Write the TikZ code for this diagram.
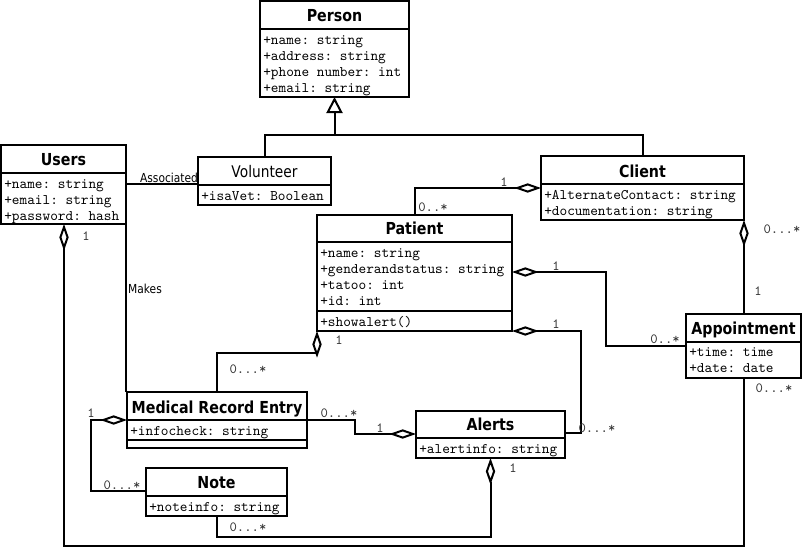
\documentclass[tikz,border=0pt]{standalone}
\usepackage{fontspec}
\usetikzlibrary{arrows.meta}
\newfontfamily\monofnt{Latin Modern Mono}
\newfontfamily\sansfnt{DejaVu Sans}[FakeStretch=0.86]
\frenchspacing
\tikzset{
  ln/.style={line width=1.5pt},
  umlbox/.style={draw, line width=1.5pt, inner sep=0pt, outer sep=0pt, anchor=north west},
  ttl/.style={anchor=base, inner sep=0pt, font=\sansfnt\bfseries\fontsize{12.4}{14}\selectfont},
  ttlreg/.style={anchor=base, inner sep=0pt, font=\sansfnt\fontsize{12}{14}\selectfont},
  attr/.style={anchor=base west, inner sep=0pt, font=\monofnt\fontsize{10.95}{12}\selectfont},
  mult/.style={inner sep=0pt, text=black!80, font=\monofnt\fontsize{10.5}{12}\selectfont},
  lbl/.style={inner sep=0pt, font=\sansfnt\fontsize{9.3}{11}\selectfont},
  agg/.style={ln, {Diamond[open, length=20pt, width=7pt]}-},
  gen/.style={ln, {Triangle[open, length=12pt, width=12pt]}-},
}
\newcommand\umlclass[5]{\node[umlbox, minimum width=#4*0.75pt, minimum height=#5*0.75pt] (#1) at (#2,#3) {};}
\newcommand\hdiv[2]{\draw[ln] (#1.west |- 0,#2) -- (#1.east |- 0,#2);}
\begin{document}
\begin{tikzpicture}[x=0.75pt, y=-0.75pt]
\useasboundingbox (0,0) rectangle (803,550);
% ---------- classes ----------
\umlclass{person}{260}{1}{149}{96}
\hdiv{person}{29}
\node[ttl] (person-t) at (person.north |- 0,21) {Person};
\node[attr] (person-a1) at (263,44) {+name: string};
\node[attr] (person-a2) at (263,60) {+address: string};
\node[attr] (person-a3) at (263,76) {+phone number: int};
\node[attr] (person-a4) at (263,92) {+email: string};

\umlclass{users}{1}{145}{125}{79}
\hdiv{users}{173}
\node[ttl] (users-t) at (users.north |- 0,165) {Users};
\node[attr] (users-a1) at (4,188) {+name: string};
\node[attr] (users-a2) at (4,204) {+email: string};
\node[attr] (users-a3) at (4,220) {+password: hash};

\umlclass{volunteer}{198}{157}{133}{48}
\hdiv{volunteer}{185}
\node[ttlreg] (volunteer-t) at (volunteer.north |- 0,177) {Volunteer};
\node[attr] (volunteer-a1) at (201,200) {+isaVet: Boolean};

\umlclass{client}{541}{156}{203}{64}
\hdiv{client}{184}
\node[ttl] (client-t) at (client.north |- 0,177) {Client};
\node[attr] (client-a1) at (544,199) {+AlternateContact: string};
\node[attr] (client-a2) at (544,215) {+documentation: string};

\umlclass{patient}{317}{215}{195}{116}
\hdiv{patient}{242}
\hdiv{patient}{311}
\node[ttl] (patient-t) at (patient.north |- 0,234) {Patient};
\node[attr] (patient-a1) at (320,257) {+name: string};
\node[attr] (patient-a2) at (320,273) {+genderandstatus: string};
\node[attr] (patient-a3) at (320,289) {+tatoo: int};
\node[attr] (patient-a4) at (320,305) {+id: int};
\node[attr] (patient-m1) at (320,326) {+showalert()};

\umlclass{appointment}{686}{314}{115}{64}
\hdiv{appointment}{342}
\node[ttl] (appointment-t) at (appointment.north |- 0,334) {Appointment};
\node[attr] (appointment-a1) at (689,356) {+time: time};
\node[attr] (appointment-a2) at (689,372) {+date: date};

\umlclass{mre}{127}{392}{180}{56}
\hdiv{mre}{420}
\hdiv{mre}{440}
\node[ttl] (mre-t) at (mre.north |- 0,413) {Medical Record Entry};
\node[attr] (mre-a1) at (130,435) {+infocheck: string};

\umlclass{alerts}{416}{411}{149}{47}
\hdiv{alerts}{438}
\node[ttl] (alerts-t) at (alerts.north |- 0,430) {Alerts};
\node[attr] (alerts-a1) at (419,453) {+alertinfo: string};

\umlclass{note}{146}{468}{141}{48}
\hdiv{note}{496}
\node[ttl] (note-t) at (note.north |- 0,488) {Note};
\node[attr] (note-a1) at (149,511) {+noteinfo: string};

% ---------- generalization ----------
\coordinate (gj) at (person.south |- 0,135);
\draw[gen] (person.south) -- (gj);
\draw[ln] (volunteer.north) |- (gj) -| (client.north);

% ---------- associations ----------
\draw[ln] (users.east |- 0,184) -- (volunteer.west |- 0,184);
\node[lbl] (assoc-l) at (169,178) {Associated};

\draw[ln] (users.south east) -- (users.south east |- mre.north);
\node[lbl] (makes-l) at (145,289) {Makes};

\draw[agg] (users.south -| 64,0) |- (appointment.south |- 0,546) -- (appointment.south);
\node[mult] (m-users-1) at (86,236) {1};
\node[mult] (m-appt-b) at (774,388) {0...*};

\draw[agg] (client.west |- 0,188) -| (patient.north);
\node[mult] (m-client-1) at (504,182) {1};
\node[mult] (m-pat-top) at (433,207) {0..*};

\draw[agg] (patient.east |- 0,272) -| (606,346) -- (appointment.west |- 0,346);
\node[mult] (m-pat-appt-1) at (556,266) {1};
\node[mult] (m-appt-l) at (665,339) {0..*};

\draw[agg] (patient.south east) -| (581,433) -- (alerts.east |- 0,433);
\node[mult] (m-pat-al-1) at (556,324) {1};
\node[mult] (m-al-r) at (597,428) {0...*};

\draw[agg] (client.south east) -- (client.south east |- appointment.north);
\node[mult] (m-client-b) at (782,229) {0...*};
\node[mult] (m-appt-t) at (758,291) {1};

\draw[agg] (patient.south west) |- (mre.north |- 0,353) -- (mre.north);
\node[mult] (m-pat-mre-1) at (339,340) {1};
\node[mult] (m-mre-t) at (248,369) {0...*};

\draw[agg] (alerts.west |- 0,434) -| (355,420) -- (mre.east |- 0,420);
\node[mult] (m-mre-r) at (339,413) {0...*};
\node[mult] (m-al-l) at (380,428) {1};

\draw[agg] (mre.west |- 0,420) -| (91,491) -- (note.west |- 0,491);
\node[mult] (m-mre-l) at (91,413) {1};
\node[mult] (m-note-l) at (122,485) {0...*};

\draw[agg] (alerts.south) |- (note.south |- 0,537) -- (note.south);
\node[mult] (m-al-b) at (513,468) {1};
\node[mult] (m-note-b) at (248,527) {0...*};
\end{tikzpicture}
\end{document}
